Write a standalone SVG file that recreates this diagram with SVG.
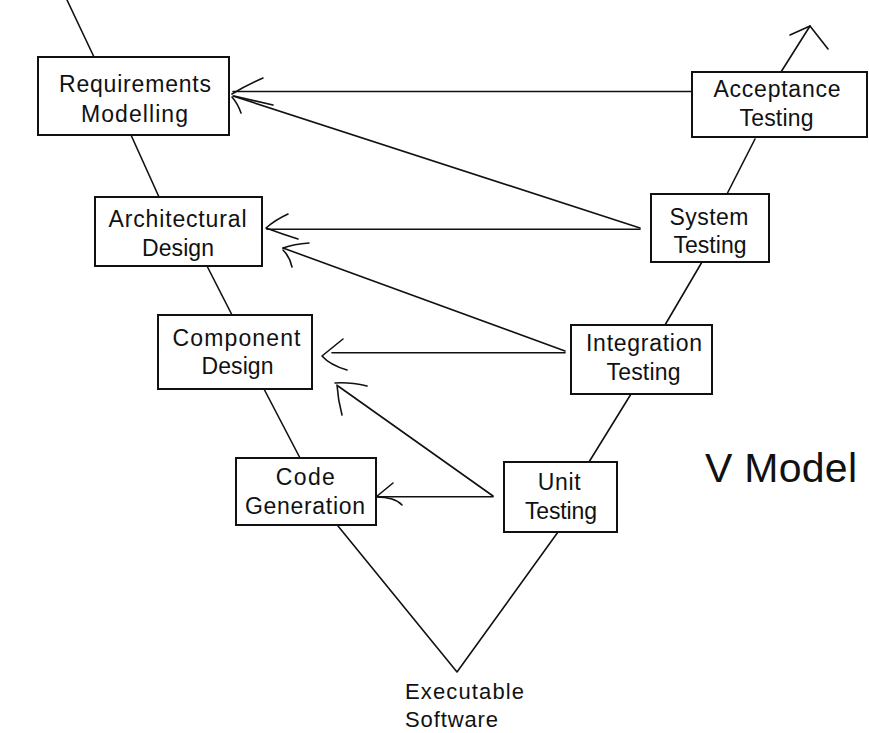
<svg xmlns="http://www.w3.org/2000/svg" width="869" height="733" viewBox="0 0 869 733">
<style>
.box{fill:#fff;stroke:#111;stroke-width:2}
.t{font-family:"Liberation Sans",Arial,sans-serif;font-size:23px;fill:#111;text-anchor:middle}
.ln{fill:none;stroke:#111;stroke-width:1.6;stroke-linecap:round;stroke-linejoin:round}
</style>
<rect width="869" height="733" fill="#fff"/>
<g id="connectors" class="ln">
  <path d="M67,0 L94,57"/>
  <path d="M131,135 L159,197"/>
  <path d="M207,266 L232,315"/>
  <path d="M264,389 L300,458"/>
  <path d="M338,526 L457,672 L558,532"/>
  <path d="M589,462 L631,394"/>
  <path d="M665,325 L702,262"/>
  <path d="M727,194 L755,139"/>
  <path d="M781,72 L810,26"/>
  <path d="M790,35 L810,26 L828,49"/>
  <path d="M692,91.5 L233,91.5"/>
  <path d="M263,78 Q245,86 232,94"/>
  <path d="M640,228 L233,96"/>
  <path d="M273,105 L234,96"/>
  <path d="M232,97 Q238,104 241,113"/>
  <path d="M640,229.3 L267,229.3"/>
  <path d="M288,214 Q275,220 266,228 Q282,234 298,239"/>
  <path d="M565,351 L283,248"/>
  <path d="M309,243 Q294,244 283,248"/>
  <path d="M283,250 Q290,257 292,267"/>
  <path d="M565,352.7 L332,352.7"/>
  <path d="M343,339 L322,356 Q330,365 347,370"/>
  <path d="M493,496 L338,386"/>
  <path d="M367,386 Q350,382 335,383"/>
  <path d="M337,385 Q338,400 342,415"/>
  <path d="M493,496.7 L378,496.7"/>
  <path d="M393,483 L376,497 Q395,497 402,505"/>
</g>
<g id="requirements-modelling">
  <rect class="box" x="38" y="57" width="191" height="78"/>
  <text class="t" x="135" y="92" textLength="152" lengthAdjust="spacing">Requirements</text>
  <text class="t" x="134.5" y="121.5" textLength="107" lengthAdjust="spacing">Modelling</text>
</g>
<g id="acceptance-testing">
  <rect class="box" x="692" y="72" width="175" height="65"/>
  <text class="t" x="777" y="97" textLength="127" lengthAdjust="spacing">Acceptance</text>
  <text class="t" x="776.5" y="125.5" textLength="74" lengthAdjust="spacing">Testing</text>
</g>
<g id="architectural-design">
  <rect class="box" x="95" y="197" width="167" height="69"/>
  <text class="t" x="177.5" y="227" textLength="138" lengthAdjust="spacing">Architectural</text>
  <text class="t" x="178" y="256" textLength="72" lengthAdjust="spacing">Design</text>
</g>
<g id="system-testing">
  <rect class="box" x="651" y="194" width="118" height="68"/>
  <text class="t" x="709" y="225" textLength="79" lengthAdjust="spacing">System</text>
  <text class="t" x="710" y="252.5" textLength="73" lengthAdjust="spacing">Testing</text>
</g>
<g id="component-design">
  <rect class="box" x="158" y="315" width="154" height="74"/>
  <text class="t" x="236.5" y="345.7" textLength="128" lengthAdjust="spacing">Component</text>
  <text class="t" x="237.5" y="374" textLength="72" lengthAdjust="spacing">Design</text>
</g>
<g id="integration-testing">
  <rect class="box" x="571" y="325" width="141" height="69"/>
  <text class="t" x="644" y="350.7" textLength="116" lengthAdjust="spacing">Integration</text>
  <text class="t" x="643.5" y="380" textLength="74" lengthAdjust="spacing">Testing</text>
</g>
<g id="code-generation">
  <rect class="box" x="236" y="458" width="140" height="67"/>
  <text class="t" x="305.3" y="485" textLength="59" lengthAdjust="spacing">Code</text>
  <text class="t" x="305" y="514" textLength="120" lengthAdjust="spacing">Generation</text>
</g>
<g id="unit-testing">
  <rect class="box" x="504" y="462" width="113" height="70"/>
  <text class="t" x="559.2" y="490" textLength="43" lengthAdjust="spacing">Unit</text>
  <text class="t" x="561" y="519" textLength="72" lengthAdjust="spacing">Testing</text>
</g>
<g id="executable-software">
  <text class="t" x="405" y="699" style="text-anchor:start;font-size:22px" textLength="119" lengthAdjust="spacing">Executable</text>
  <text class="t" x="405" y="727" style="text-anchor:start;font-size:22px" textLength="93" lengthAdjust="spacing">Software</text>
</g>
<g id="title">
  <text class="t" x="705" y="481.7" style="text-anchor:start;font-size:41px" textLength="152" lengthAdjust="spacing">V Model</text>
</g>
</svg>
